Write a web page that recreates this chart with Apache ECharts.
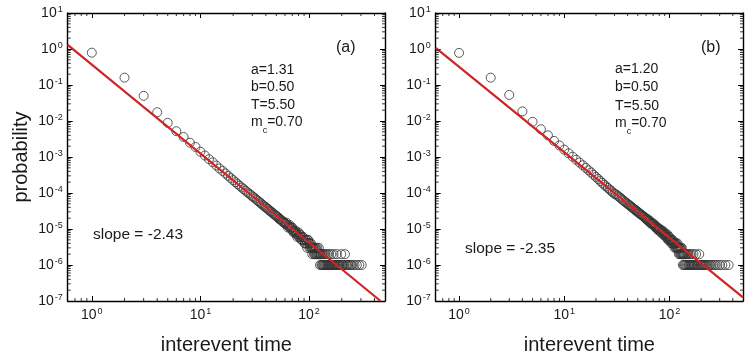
<!DOCTYPE html>
<html><head><meta charset="utf-8">
<script src="https://cdn.jsdelivr.net/npm/echarts@6/dist/echarts.min.js"></script>
<style>html,body{margin:0;padding:0;background:#fff}#c{width:746px;height:360px}</style>
</head><body><div id="c"></div>
<script>
// ---------- data ----------
const tA = [1,2,3,4,5,6,7,8,9,10,11,12,13,14,15,16,17,18,19,20,21,22,23,24,25,26,27,28,29,30,
 31,32,33,34,35,36,37,38,39,40,41,42,43,44,45,46,47,48,49,50,51,52,53,54,55,56,57,58,59,60,
 61,62,63,64,65,66,67,68,69,70,71,72,73,74,75,76,77,78,79,80,81,82,83,84,85,86,87,88,89,90,
 91,92,93,94,95,96,97,98,99,100,101,102,103,104,105,106,107,108,109,110,111,112,113,114,115,116,117,118,119,120,
 122,123,124,125,126,127,128,130,131,132,134,135,136,138,139,141,142,144,145,147,149,150,152,153,155,157,158,160,
 162,164,166,168,170,172,175,177,180,182,185,188,190,195,198,201,205,210,214,218,224,230,236,243,250,262,275,290,305];
const pA = [0.79,0.16,0.050,0.0175,0.0089,0.0052,0.0036,0.0025,0.0019,0.0014,0.00110,0.00087,0.00071,0.00058,0.00048,
 0.00041,0.00035,0.00030,0.00026,0.000228,0.000200,0.000177,0.000158,0.000142,0.000128,0.000116,0.000105,9.7e-5,8.9e-5,8.1e-5,
 76e-6,70e-6,64e-6,60e-6,55e-6,52e-6,48e-6,45e-6,42e-6,40e-6,37e-6,36e-6,33e-6,31e-6,30e-6,28e-6,27e-6,25e-6,24e-6,23e-6,
 22e-6,21e-6,19e-6,19e-6,18e-6,17e-6,16e-6,16e-6,15e-6,14e-6,
 14e-6,15e-6,13e-6,11e-6,12e-6,13e-6,11e-6,10e-6,11e-6,11e-6,9e-6,8e-6,9e-6,8e-6,9e-6,8e-6,7e-6,6e-6,7e-6,8e-6,
 6e-6,7e-6,7e-6,6e-6,5e-6,5e-6,6e-6,6e-6,5e-6,5e-6,
 4e-6,4e-6,5e-6,5e-6,4e-6,3e-6,5e-6,5e-6,4e-6,4e-6,3e-6,4e-6,3e-6,4e-6,3e-6,3e-6,2e-6,3e-6,3e-6,3e-6,2e-6,3e-6,2e-6,3e-6,2e-6,3e-6,2e-6,2e-6,3e-6,2e-6,
 2e-6,3e-6,2e-6,2e-6,1e-6,2e-6,2e-6,1e-6,2e-6,1e-6,2e-6,1e-6,1e-6,2e-6,1e-6,1e-6,2e-6,1e-6,1e-6,2e-6,1e-6,1e-6,1e-6,2e-6,1e-6,1e-6,1e-6,2e-6,
 1e-6,1e-6,1e-6,2e-6,1e-6,1e-6,1e-6,1e-6,2e-6,1e-6,1e-6,1e-6,1e-6,1e-6,2e-6,1e-6,1e-6,1e-6,2e-6,1e-6,1e-6,1e-6,1e-6,1e-6,1e-6,1e-6,1e-6,1e-6,1e-6];

const tB = [1,2,3,4,5,6,7,8,9,10,11,12,13,14,15,16,17,18,19,20,21,22,23,24,25,26,27,28,29,30,
 31,32,33,34,35,36,37,38,39,40,41,42,43,44,45,46,47,48,49,50,51,52,53,54,55,56,57,58,59,60,
 61,62,63,64,65,66,67,68,69,70,71,72,73,74,75,76,77,78,79,80,81,82,83,84,85,86,87,88,89,90,
 91,92,93,94,95,96,97,98,99,100,101,102,103,104,105,106,107,108,109,110,111,112,113,114,115,116,117,118,119,120,
 121,122,123,124,125,126,127,128,129,130,131,132,133,134,135,136,137,138,139,140,142,143,145,146,148,150,151,153,155,156,158,160,
 162,164,166,169,171,173,176,179,182,185,188,192,195,199,203,207,212,217,223,229,236,244,252,262,273,285,300,318,340,365];
const pB = [0.78,0.16,0.053,0.0185,0.0095,0.0059,0.0040,0.0028,0.0021,0.0016,0.00127,0.00102,0.00084,0.00070,0.00059,
 0.00050,0.00043,0.00037,0.00032,0.00028,0.000245,0.000215,0.000191,0.000170,0.000152,0.000138,0.000125,0.000114,0.000104,9.5e-5,
 92e-6,85e-6,79e-6,74e-6,69e-6,64e-6,60e-6,56e-6,53e-6,50e-6,47e-6,45e-6,42e-6,40e-6,38e-6,36e-6,34e-6,33e-6,31e-6,30e-6,
 28e-6,27e-6,26e-6,25e-6,24e-6,23e-6,22e-6,21e-6,20e-6,19e-6,
 18e-6,19e-6,17e-6,16e-6,17e-6,15e-6,14e-6,15e-6,14e-6,13e-6,14e-6,12e-6,12e-6,11e-6,12e-6,10e-6,11e-6,10e-6,9e-6,10e-6,
 10e-6,9e-6,8e-6,9e-6,8e-6,9e-6,7e-6,8e-6,7e-6,8e-6,
 7e-6,6e-6,7e-6,6e-6,6e-6,7e-6,5e-6,6e-6,5e-6,6e-6,5e-6,5e-6,5e-6,4e-6,5e-6,4e-6,5e-6,4e-6,4e-6,4e-6,4e-6,3e-6,4e-6,4e-6,3e-6,4e-6,3e-6,3e-6,4e-6,3e-6,
 3e-6,3e-6,2e-6,3e-6,3e-6,2e-6,3e-6,2e-6,3e-6,2e-6,3e-6,2e-6,2e-6,1e-6,2e-6,2e-6,1e-6,2e-6,2e-6,1e-6,2e-6,1e-6,2e-6,1e-6,2e-6,1e-6,2e-6,1e-6,1e-6,2e-6,1e-6,1e-6,
 2e-6,1e-6,1e-6,2e-6,1e-6,1e-6,1e-6,2e-6,1e-6,1e-6,1e-6,2e-6,1e-6,1e-6,1e-6,1e-6,1e-6,1e-6,1e-6,1e-6,1e-6,1e-6,1e-6,1e-6,1e-6,1e-6,1e-6,1e-6,1e-6,1e-6];

// fitted power-law lines (end points)
const fitA = [[0.6, 1.3], [455, 1.0e-7]];
const fitB = [[0.6, 1.07], [500, 1.26e-7]];

// axis ranges and tick helpers
const X_RANGE = [0.6, 500];
const Y_RANGE = [1e-7, 10];
const minorMult = [2,3,4,5,6,7,8,9];
const decadesX = [0.1, 1, 10, 100];
const decadesY = [1e-7,1e-6,1e-5,1e-4,1e-3,1e-2,1e-1,1];

const paramsA = ['a=1.31','b=0.50','T=5.50','0.70'];
const paramsB = ['a=1.20','b=0.50','T=5.50','0.70'];
const slopeA = 'slope = -2.43';
const slopeB = 'slope = -2.35';

// ---------- chart ----------
const FONT = '"Liberation Sans", Arial, sans-serif';
const TXT = '#1a1a1a';
function minors(decs, lo, hi){
  const out=[];
  decs.forEach(d=>minorMult.forEach(m=>{const v=+(d*m).toPrecision(6); if(v>lo*1.0001 && v<hi*0.9999) out.push(v);}));
  return out;
}
const minorX = minors(decadesX, X_RANGE[0], X_RANGE[1]);
const minorY = minors(decadesY, Y_RANGE[0], Y_RANGE[1]);

function powLabel(v){
  const l = Math.log10(v), e = Math.round(l);
  if (Math.abs(l-e) > 1e-6) return '';
  return '{b|10}{e|' + e + '}';
}
const rich = {
  b:{fontSize:14, fontFamily:FONT, color:TXT, lineHeight:16},
  e:{fontSize:9, fontFamily:FONT, color:TXT, verticalAlign:'top', lineHeight:16, padding:[0,0,0,1]}
};
const lineStyle = {color:'#000', width:1.4};
function xAx(g, bottom){
  return {type:'log', gridIndex:g, min:X_RANGE[0], max:X_RANGE[1], position: bottom?'bottom':'top',
    axisLine:{show:true, onZero:false, lineStyle}, axisTick:{show:true, inside:true, length:5, lineStyle:{color:'#000', width:1}},
    axisLabel:{show:bottom, margin:6, formatter:powLabel, rich, showMinLabel:true, showMaxLabel:true},
    splitLine:{show:false}, minorTick:{show:false},
    name: bottom?'interevent time':'', nameLocation:'middle', nameGap:34,
    nameTextStyle:{fontSize:20, fontFamily:FONT, color:TXT}};
}
function yAx(g, left, name){
  return {type:'log', gridIndex:g, min:Y_RANGE[0], max:Y_RANGE[1], position: left?'left':'right',
    axisLine:{show:true, onZero:false, lineStyle}, axisTick:{show:true, inside:true, length:5, lineStyle:{color:'#000', width:1}},
    axisLabel:{show:left, margin:5, formatter:powLabel, rich},
    splitLine:{show:false},
    name: name||'', nameLocation:'middle', nameGap:36,
    nameTextStyle:{fontSize:20, fontFamily:FONT, color:TXT}};
}
function tickSeries(xi, yi){
  const base = {type:'scatter', xAxisIndex:xi, yAxisIndex:yi, symbol:'rect', silent:true, clip:false, z:6,
    itemStyle:{color:'#000'}, emphasis:{disabled:true}};
  return [
    Object.assign({}, base, {data:minorX.map(v=>[v, Y_RANGE[0]]), symbolSize:[1,3], symbolOffset:[0,-1.5]}),
    Object.assign({}, base, {data:minorX.map(v=>[v, Y_RANGE[1]]), symbolSize:[1,3], symbolOffset:[0,1.5]}),
    Object.assign({}, base, {data:minorY.map(v=>[X_RANGE[0], v]), symbolSize:[3,1], symbolOffset:[1.5,0]}),
    Object.assign({}, base, {data:minorY.map(v=>[X_RANGE[1], v]), symbolSize:[3,1], symbolOffset:[-1.5,0]})
  ];
}
function pts(t,p){ return t.map((v,i)=>[v,p[i]]); }
function scatterS(xi, yi, data){
  return {type:'scatter', xAxisIndex:xi, yAxisIndex:yi, data, symbol:'circle', symbolSize:9, z:2,
    itemStyle:{color:'rgba(0,0,0,0)', borderColor:'#333', borderWidth:1}, emphasis:{disabled:true}};
}
function fitS(xi, yi, data){
  return {type:'line', xAxisIndex:xi, yAxisIndex:yi, data, showSymbol:false, symbol:'none', z:4,
    lineStyle:{color:'#cf2424', width:2.2}, emphasis:{disabled:true}};
}
function txt(x, y, s, size){
  return {type:'text', x, y, silent:true, style:{text:s, fontSize:size, fontFamily:FONT, fill:TXT, verticalAlign:'middle', align:'left'}};
}
function mcTxt(x, y, val){
  return {type:'text', x, y, silent:true, style:{text:'{n|m}{s|c}{n|='+val+'}', verticalAlign:'middle', align:'left',
    rich:{n:{fontSize:14, fontFamily:FONT, fill:TXT, lineHeight:16}, s:{fontSize:9, fontFamily:FONT, fill:TXT, verticalAlign:'bottom', lineHeight:26}}}};
}

const option = {
  animation:false,
  backgroundColor:'#fff',
  grid:[
    {left:67.7, top:13, width:317.3, height:293.7},
    {left:435.7, top:13, width:312.6, height:293.7}
  ],
  xAxis:[xAx(0,true), xAx(0,false), xAx(1,true), xAx(1,false)],
  yAxis:[yAx(0,true,'probability'), yAx(0,false), yAx(1,true), yAx(1,false)],
  series:[
    scatterS(0,0,pts(tA,pA)), fitS(0,0,fitA), ...tickSeries(0,0),
    scatterS(2,2,pts(tB,pB)), fitS(2,2,fitB), ...tickSeries(2,2)
  ],
  graphic:[
    txt(336,48,'(a)',16),
    txt(251,70,paramsA[0],14), txt(251,87.5,paramsA[1],14), txt(251,105,paramsA[2],14), mcTxt(251,122,paramsA[3]),
    txt(93,235,slopeA,15.5),
    txt(701,48,'(b)',16),
    txt(615,69,paramsB[0],14), txt(615,87.5,paramsB[1],14), txt(615,106,paramsB[2],14), mcTxt(615,123.5,paramsB[3]),
    txt(465,248.5,slopeB,15.5)
  ]
};
const chart = echarts.init(document.getElementById('c'), null, {renderer:'canvas'});
chart.setOption(option);
</script>
</body></html>
